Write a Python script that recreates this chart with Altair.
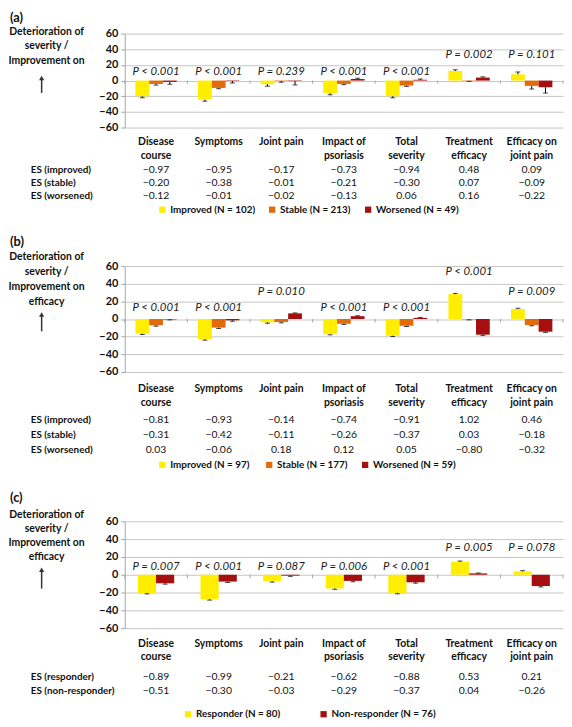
import altair as alt
import pandas as pd

FONT = "Lato"
PLOT_W = 443

categories = ["Disease course", "Symptoms", "Joint pain", "Impact of psoriasis",
              "Total severity", "Treatment efficacy", "Efficacy on joint pain"]
category_labels = ["Disease\ncourse", "Symptoms", "Joint pain", "Impact of\npsoriasis",
                   "Total\nseverity", "Treatment\nefficacy", "Efficacy on\njoint pain"]
y_ticks = [-60, -40, -20, 0, 20, 40, 60]
band_edges = [0, 1, 2, 3, 4, 5, 6, 7]

# ---------------- Panel (a) ----------------
a_groups = ["Improved (N = 102)", "Stable (N = 213)", "Worsened (N = 49)"]
a_colors = ["#FFEE00", "#E36C0A", "#A50F0F"]
a_improved = [-20.0, -24.3, -4.7, -16.2, -20.0, 12.3, 8.0]
a_stable = [-4.3, -9.4, -0.6, -4.3, -6.4, -0.5, -6.8]
a_worsened = [-1.7, -0.6, -0.6, 2.0, 1.0, 3.8, -8.5]
a_err_improved = [2.0, 2.0, 2.5, 2.0, 2.0, 1.5, 3.0]
a_err_stable = [1.5, 1.0, 1.5, 1.0, 1.0, 0.5, 4.0]
a_err_worsened = [3.0, 2.5, 5.0, 1.0, 1.0, 1.0, 7.5]
a_p = ["P < 0.001", "P < 0.001", "P = 0.239", "P < 0.001", "P < 0.001", "P = 0.002", "P = 0.101"]
a_p_y = [11, 11, 11, 11, 11, 32, 32]
a_es_rows = ["ES (improved)", "ES (stable)", "ES (worsened)"]
a_es_improved = [-0.97, -0.95, -0.17, -0.73, -0.94, 0.48, 0.09]
a_es_stable = [-0.20, -0.38, -0.01, -0.21, -0.30, 0.07, -0.09]
a_es_worsened = [-0.12, -0.01, -0.02, -0.13, 0.06, 0.16, -0.22]
a_title = "Deterioration of\nseverity /\nImprovement on"

# ---------------- Panel (b) ----------------
b_groups = ["Improved (N =  97)", "Stable (N = 177)", "Worsened (N = 59)"]
b_colors = ["#FFEE00", "#E36C0A", "#A50F0F"]
b_improved = [-16.6, -23.0, -3.8, -17.2, -19.0, 28.2, 11.4]
b_stable = [-7.2, -9.8, -3.4, -5.4, -7.7, -0.5, -6.9]
b_worsened = [-0.5, -1.5, 6.4, 3.2, 1.3, -17.8, -14.4]
b_err_improved = [1.0, 1.0, 1.0, 0.8, 0.8, 0.8, 0.8]
b_err_stable = [1.0, 1.0, 1.0, 0.8, 0.8, 0.5, 0.8]
b_err_worsened = [0.5, 1.0, 0.5, 0.5, 0.5, 0.8, 0.8]
b_p = ["P < 0.001", "P < 0.001", "P = 0.010", "P < 0.001", "P < 0.001", "P < 0.001", "P = 0.009"]
b_p_y = [12, 12, 31, 12, 12, 53, 31]
b_es_rows = ["ES (improved)", "ES (stable)", "ES (worsened)"]
b_es_improved = [-0.81, -0.93, -0.14, -0.74, -0.91, 1.02, 0.46]
b_es_stable = [-0.31, -0.42, -0.11, -0.26, -0.37, 0.03, -0.18]
b_es_worsened = [0.03, -0.06, 0.18, 0.12, 0.05, -0.80, -0.32]
b_title = "Deterioration of\nseverity /\nImprovement on\nefficacy"

# ---------------- Panel (c) ----------------
c_groups = ["Responder (N = 80)", "Non-responder (N = 76)"]
c_colors = ["#FFEE00", "#A50F0F"]
c_responder = [-20.5, -27.5, -7.3, -15.4, -20.4, 14.6, 3.8]
c_nonresponder = [-9.6, -7.7, -1.0, -6.9, -8.5, 1.5, -12.7]
c_err_responder = [1.0, 1.0, 1.0, 1.0, 1.0, 0.8, 0.8]
c_err_nonresponder = [1.0, 1.0, 0.8, 1.0, 1.0, 0.5, 1.0]
c_p = ["P = 0.007", "P < 0.001", "P = 0.087", "P = 0.006", "P < 0.001", "P = 0.005", "P = 0.078"]
c_p_y = [9, 9, 9, 9, 9, 30, 30]
c_es_rows = ["ES (responder)", "ES (non-responder)"]
c_es_responder = [-0.89, -0.99, -0.21, -0.62, -0.88, 0.53, 0.21]
c_es_nonresponder = [-0.51, -0.30, -0.03, -0.29, -0.37, 0.04, -0.26]
c_title = "Deterioration of\nseverity /\nImprovement on\nefficacy"


def xcat(pad):
    return alt.X("cat:N", scale=alt.Scale(domain=categories, paddingInner=pad, paddingOuter=pad / 2),
                 axis=None)


Y_AXIS = alt.Axis(values=y_ticks, title=None, grid=True, gridColor="#C4C4C4", gridWidth=1,
                  domainColor="#A6A6A6", tickColor="#A6A6A6", tickSize=4, labelPadding=3,
                  labelFont=FONT, labelFontSize=11, labelFontWeight="bold",
                  labelColor="#111111", labelOverlap=False)


def yq(field):
    return alt.Y(field + ":Q", scale=alt.Scale(domain=[-60, 60], nice=False, zero=False),
                 axis=Y_AXIS)


def make_panel(letter, title, groups, colors, series, errors, pvals, p_y, es_rows, es_series,
               H, pad, lay):
    rows = []
    for g, vals, errs in zip(groups, series, errors):
        for c, v, e in zip(categories, vals, errs):
            rows.append({"cat": c, "grp": g, "v": v, "end": (v + e) if v >= 0 else (v - e)})
    bdf = pd.DataFrame(rows)
    X = xcat(pad)
    XO = alt.XOffset("grp:N", scale=alt.Scale(domain=groups, paddingInner=0, paddingOuter=0))
    legend = alt.Legend(orient="none", legendX=lay["legend_x"], legendY=lay["legend_y"],
                        direction="horizontal", title=None, symbolType="square", symbolSize=40,
                        symbolStrokeWidth=0, labelFont=FONT, labelFontSize=10,
                        labelFontWeight="bold", labelColor="#111111",
                        columnPadding=lay["legend_pad"], labelOffset=3, padding=0)
    bars = alt.Chart(bdf).mark_bar().encode(
        x=X, xOffset=XO, y=yq("v"),
        color=alt.Color("grp:N", scale=alt.Scale(domain=groups, range=colors), legend=legend))
    stems = alt.Chart(bdf).mark_rule(color="#000000", strokeWidth=1).encode(
        x=X, xOffset=XO, y=yq("v"), y2="end:Q")
    caps = alt.Chart(bdf).mark_tick(color="#000000", size=5, thickness=1).encode(
        x=X, xOffset=XO, y=yq("end"))
    edf0 = pd.DataFrame({"b": band_edges, "y0": [0] * len(band_edges), "y1": [-4] * len(band_edges)})
    edges = alt.Chart(edf0).mark_rule(color="#A6A6A6").encode(
        x=alt.X("b:Q", scale=alt.Scale(domain=[0, 7], nice=False, zero=False), axis=None),
        y=yq("y0"), y2="y1:Q")
    pdf = pd.DataFrame({"cat": categories, "p": pvals, "py": p_y})
    ptext = alt.Chart(pdf).mark_text(font=FONT, fontStyle="italic", fontSize=11.5,
                                     color="#1a1a1a").encode(x=X, y=yq("py"), text="p:N")
    cdf = pd.DataFrame({"cat": categories, "label": category_labels})
    clab = alt.Chart(cdf).mark_text(font=FONT, fontWeight="bold", fontSize=10.5, lineBreak="\n",
                                    baseline="top", lineHeight=lay["cat_lh"],
                                    color="#111111").encode(
        x=X, y=alt.value(lay["cat_y"]), text="label:N")
    layers = [bars, stems, caps, edges, ptext, clab]
    for rname, vals, ry in zip(es_rows, es_series, lay["es_y"]):
        edf = pd.DataFrame({"cat": categories, "es": vals})
        layers.append(alt.Chart(edf).mark_text(font=FONT, fontSize=10.5, color="#111111").encode(
            x=X, y=alt.value(ry), text=alt.Text("es:Q", format=".2f")))
        layers.append(alt.Chart(pd.DataFrame({"t": [rname]})).mark_text(
            font=FONT, fontSize=10, fontWeight="bold", align="left", color="#111111").encode(
            x=alt.value(-95), y=alt.value(ry), text="t:N"))
    layers.append(alt.Chart(pd.DataFrame({"t": [title]})).mark_text(
        font=FONT, fontSize=10.5, fontWeight="bold", align="center", baseline="top",
        lineBreak="\n", lineHeight=lay["title_lh"], color="#111111").encode(
        x=alt.value(-79), y=alt.value(lay["title_y"]), text="t:N"))
    layers.append(alt.Chart(pd.DataFrame({"t": [letter]})).mark_text(
        font=FONT, fontSize=13, fontWeight="bold", align="left", color="#111111").encode(
        x=alt.value(-116), y=alt.value(lay["letter_y"]), text="t:N"))
    adf = pd.DataFrame({"t": [1]})
    layers.append(alt.Chart(adf).mark_rule(color="#333333", strokeWidth=1.5).encode(
        x=alt.value(-84), y=alt.value(lay["arrow"][0] + 3), y2=alt.value(lay["arrow"][1])))
    layers.append(alt.Chart(adf).mark_point(shape="triangle-up", filled=True, size=28,
                                            color="#333333", opacity=1).encode(
        x=alt.value(-84), y=alt.value(lay["arrow"][0] + 2)))
    return alt.layer(*layers).resolve_scale(x="independent").properties(width=PLOT_W, height=H)


pa = make_panel("(a)", a_title, a_groups, a_colors, [a_improved, a_stable, a_worsened],
                [a_err_improved, a_err_stable, a_err_worsened], a_p, a_p_y, a_es_rows,
                [a_es_improved, a_es_stable, a_es_worsened], 95, 0.34,
                dict(letter_y=-16, title_y=-7, title_lh=15, arrow=(43, 60), cat_y=105, cat_lh=14,
                     es_y=[138, 151, 164], legend_x=33, legend_y=173, legend_pad=12))
pb = make_panel("(b)", b_title, b_groups, b_colors, [b_improved, b_stable, b_worsened],
                [b_err_improved, b_err_stable, b_err_worsened], b_p, b_p_y, b_es_rows,
                [b_es_improved, b_es_stable, b_es_worsened], 107, 0.34,
                dict(letter_y=-24, title_y=-14, title_lh=15, arrow=(47, 66), cat_y=119, cat_lh=14,
                     es_y=[156, 171, 186], legend_x=33, legend_y=196, legend_pad=12))
pc = make_panel("(c)", c_title, c_groups, c_colors, [c_responder, c_nonresponder],
                [c_err_responder, c_err_nonresponder], c_p, c_p_y, c_es_rows,
                [c_es_responder, c_es_nonresponder], 108, 0.42,
                dict(letter_y=-24, title_y=-11, title_lh=14, arrow=(47, 68), cat_y=119, cat_lh=13,
                     es_y=[157, 172], legend_x=59, legend_y=190, legend_pad=38))

chart = alt.vconcat(pa, pb, pc, spacing=22).resolve_scale(
    color="independent", xOffset="independent").properties(
    padding=0, background="white").configure_view(stroke=None)

chart.save("out.html", embed_options={"renderer": "svg", "actions": False})
